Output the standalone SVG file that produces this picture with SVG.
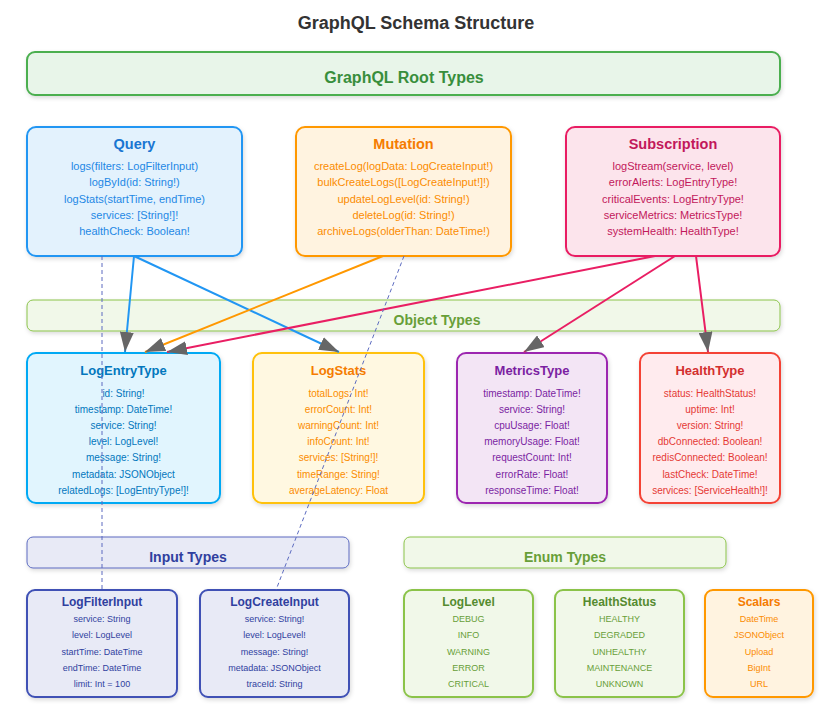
<svg xmlns="http://www.w3.org/2000/svg" width="832" height="707" viewBox="0 0 832 707">
<style>
text{font-family:"Liberation Sans",Arial,sans-serif;text-anchor:middle}
.h{font-weight:bold}
.t0{font-size:18px;fill:#333}
.bn{font-size:14px;font-weight:bold}
.rt{font-size:14.5px;font-weight:bold}
.rb{font-size:11px}
.ot{font-size:13px;font-weight:bold}
.ob{font-size:10px}
.it{font-size:12px;font-weight:bold}
.ib{font-size:9px}
.box{stroke-width:2;filter:url(#sh)}
.ban{stroke-width:1;filter:url(#sh)}
.solid{fill:none;stroke-width:2;marker-end:url(#ah)}
.dash{fill:none;stroke:#5c6bc0;stroke-width:1;stroke-dasharray:4,3}
</style>
<defs>
<filter id="sh" x="-10%" y="-10%" width="130%" height="140%">
<feDropShadow dx="1" dy="2" stdDeviation="2" flood-color="#000" flood-opacity="0.15"/>
</filter>
<marker id="ah" viewBox="0 0 10 7" refX="10" refY="3.5" markerWidth="10" markerHeight="7" orient="auto" markerUnits="strokeWidth">
<polygon points="0,0 10,3.5 0,7" fill="#666"/>
</marker>
</defs>
<rect width="832" height="707" fill="#fff"/>
<text class="t0 h" x="416" y="29">GraphQL Schema Structure</text>

<g id="root-types">
<rect x="27" y="52" width="753" height="43" rx="8" fill="#e8f5e9" stroke="#4caf50" stroke-width="2" filter="url(#sh)"/>
<text x="404" y="83" style="font-size:16px;font-weight:bold;fill:#388e3c">GraphQL Root Types</text>
</g>

<g id="query">
<rect class="box" x="27" y="127" width="215" height="129" rx="9" fill="#e3f2fd" stroke="#2196f3"/>
<text class="rt" x="134.5" y="149" fill="#1976d2">Query</text>
<g class="rb" fill="#1e88e5">
<text x="134.5" y="170">logs(filters: LogFilterInput)</text>
<text x="134.5" y="186">logById(id: String!)</text>
<text x="134.5" y="203">logStats(startTime, endTime)</text>
<text x="134.5" y="219">services: [String!]!</text>
<text x="134.5" y="235">healthCheck: Boolean!</text>
</g>
</g>

<g id="mutation">
<rect class="box" x="296" y="127" width="215" height="129" rx="9" fill="#fff3e0" stroke="#ff9800"/>
<text class="rt" x="403.5" y="149" fill="#f57c00">Mutation</text>
<g class="rb" fill="#fb8c00">
<text x="403.5" y="170">createLog(logData: LogCreateInput!)</text>
<text x="403.5" y="186">bulkCreateLogs([LogCreateInput!]!)</text>
<text x="403.5" y="203">updateLogLevel(id: String!)</text>
<text x="403.5" y="219">deleteLog(id: String!)</text>
<text x="403.5" y="235">archiveLogs(olderThan: DateTime!)</text>
</g>
</g>

<g id="subscription">
<rect class="box" x="566" y="127" width="214" height="129" rx="9" fill="#fce4ec" stroke="#e91e63"/>
<text class="rt" x="673" y="149" fill="#c2185b">Subscription</text>
<g class="rb" fill="#c2185b">
<text x="673" y="170">logStream(service, level)</text>
<text x="673" y="186">errorAlerts: LogEntryType!</text>
<text x="673" y="203">criticalEvents: LogEntryType!</text>
<text x="673" y="219">serviceMetrics: MetricsType!</text>
<text x="673" y="235">systemHealth: HealthType!</text>
</g>
</g>

<g id="object-types">
<rect class="ban" x="27" y="300" width="753" height="31" rx="6" fill="#f1f8e9" stroke="#8bc34a"/>
<text class="bn" x="437" y="325" fill="#689f38">Object Types</text>
</g>

<g id="logentrytype">
<rect class="box" x="27" y="353" width="193" height="150" rx="9" fill="#e1f5fe" stroke="#03a9f4"/>
<text class="ot" x="123.5" y="375" fill="#0277bd">LogEntryType</text>
<g class="ob" fill="#0277bd">
<text x="123.5" y="396.5">id: String!</text>
<text x="123.5" y="412.7">timestamp: DateTime!</text>
<text x="123.5" y="428.9">service: String!</text>
<text x="123.5" y="445.1">level: LogLevel!</text>
<text x="123.5" y="461.3">message: String!</text>
<text x="123.5" y="477.5">metadata: JSONObject</text>
<text x="123.5" y="493.7">relatedLogs: [LogEntryType!]!</text>
</g>
</g>

<g id="logstats">
<rect class="box" x="253" y="353" width="171" height="150" rx="9" fill="#fff8e1" stroke="#ffc107"/>
<text class="ot" x="338.5" y="375" fill="#f57c00">LogStats</text>
<g class="ob" fill="#fb8c00">
<text x="338.5" y="396.5">totalLogs: Int!</text>
<text x="338.5" y="412.7">errorCount: Int!</text>
<text x="338.5" y="428.9">warningCount: Int!</text>
<text x="338.5" y="445.1">infoCount: Int!</text>
<text x="338.5" y="461.3">services: [String!]!</text>
<text x="338.5" y="477.5">timeRange: String!</text>
<text x="338.5" y="493.7">averageLatency: Float</text>
</g>
</g>

<g id="metricstype">
<rect class="box" x="457" y="353" width="150" height="150" rx="9" fill="#f3e5f5" stroke="#9c27b0"/>
<text class="ot" x="532" y="375" fill="#7b1fa2">MetricsType</text>
<g class="ob" fill="#7b1fa2">
<text x="532" y="396.5">timestamp: DateTime!</text>
<text x="532" y="412.7">service: String!</text>
<text x="532" y="428.9">cpuUsage: Float!</text>
<text x="532" y="445.1">memoryUsage: Float!</text>
<text x="532" y="461.3">requestCount: Int!</text>
<text x="532" y="477.5">errorRate: Float!</text>
<text x="532" y="493.7">responseTime: Float!</text>
</g>
</g>

<g id="healthtype">
<rect class="box" x="640" y="353" width="140" height="150" rx="9" fill="#ffebee" stroke="#f44336"/>
<text class="ot" x="710" y="375" fill="#d32f2f">HealthType</text>
<g class="ob" fill="#e53935">
<text x="710" y="396.5">status: HealthStatus!</text>
<text x="710" y="412.7">uptime: Int!</text>
<text x="710" y="428.9">version: String!</text>
<text x="710" y="445.1">dbConnected: Boolean!</text>
<text x="710" y="461.3">redisConnected: Boolean!</text>
<text x="710" y="477.5">lastCheck: DateTime!</text>
<text x="710" y="493.7">services: [ServiceHealth!]!</text>
</g>
</g>

<g id="input-types">
<rect class="ban" x="27" y="537" width="322" height="31" rx="6" fill="#e8eaf6" stroke="#5c6bc0"/>
<text class="bn" x="188" y="562" fill="#303f9f">Input Types</text>
</g>

<g id="enum-types">
<rect class="ban" x="404" y="537" width="322" height="31" rx="6" fill="#f1f8e9" stroke="#8bc34a"/>
<text class="bn" x="565" y="562" fill="#689f38">Enum Types</text>
</g>

<g id="logfilterinput">
<rect class="box" x="27" y="590" width="150" height="107" rx="8" fill="#e8eaf6" stroke="#3f51b5"/>
<text class="it" x="102" y="606" fill="#303f9f">LogFilterInput</text>
<g class="ib" fill="#303f9f">
<text x="102" y="622.2">service: String</text>
<text x="102" y="638.4">level: LogLevel</text>
<text x="102" y="654.6">startTime: DateTime</text>
<text x="102" y="670.8">endTime: DateTime</text>
<text x="102" y="687">limit: Int = 100</text>
</g>
</g>

<g id="logcreateinput">
<rect class="box" x="200" y="590" width="149" height="107" rx="8" fill="#e8eaf6" stroke="#3f51b5"/>
<text class="it" x="274.5" y="606" fill="#303f9f">LogCreateInput</text>
<g class="ib" fill="#303f9f">
<text x="274.5" y="622.2">service: String!</text>
<text x="274.5" y="638.4">level: LogLevel!</text>
<text x="274.5" y="654.6">message: String!</text>
<text x="274.5" y="670.8">metadata: JSONObject</text>
<text x="274.5" y="687">traceId: String</text>
</g>
</g>

<g id="loglevel">
<rect class="box" x="404" y="590" width="129" height="107" rx="8" fill="#f1f8e9" stroke="#8bc34a"/>
<text class="it" x="468.5" y="606" fill="#558b2f">LogLevel</text>
<g class="ib" fill="#689f38">
<text x="468.5" y="622.2">DEBUG</text>
<text x="468.5" y="638.4">INFO</text>
<text x="468.5" y="654.6">WARNING</text>
<text x="468.5" y="670.8">ERROR</text>
<text x="468.5" y="687">CRITICAL</text>
</g>
</g>

<g id="healthstatus">
<rect class="box" x="555" y="590" width="129" height="107" rx="8" fill="#f1f8e9" stroke="#8bc34a"/>
<text class="it" x="619.5" y="606" fill="#558b2f">HealthStatus</text>
<g class="ib" fill="#689f38">
<text x="619.5" y="622.2">HEALTHY</text>
<text x="619.5" y="638.4">DEGRADED</text>
<text x="619.5" y="654.6">UNHEALTHY</text>
<text x="619.5" y="670.8">MAINTENANCE</text>
<text x="619.5" y="687">UNKNOWN</text>
</g>
</g>

<g id="scalars">
<rect class="box" x="705" y="590" width="108" height="107" rx="8" fill="#fff3e0" stroke="#ff9800"/>
<text class="it" x="759" y="606" fill="#f57c00">Scalars</text>
<g class="ib" fill="#fb8c00">
<text x="759" y="622.2">DateTime</text>
<text x="759" y="638.4">JSONObject</text>
<text x="759" y="654.6">Upload</text>
<text x="759" y="670.8">BigInt</text>
<text x="759" y="687">URL</text>
</g>
</g>

<g id="connectors">
<line class="solid" x1="134" y1="256" x2="125" y2="352" stroke="#2196f3"/>
<line class="solid" x1="134" y1="256" x2="339" y2="352" stroke="#2196f3"/>
<line class="solid" x1="383" y1="256" x2="145" y2="352" stroke="#ff9800"/>
<line class="solid" x1="655" y1="256" x2="167" y2="352" stroke="#e91e63"/>
<line class="solid" x1="675" y1="256" x2="524" y2="352" stroke="#e91e63"/>
<line class="solid" x1="696" y1="256" x2="708" y2="352" stroke="#e91e63"/>
<line class="dash" x1="102" y1="256" x2="102" y2="590"/>
<line class="dash" x1="404" y1="256" x2="276" y2="590"/>
</g>
</svg>
